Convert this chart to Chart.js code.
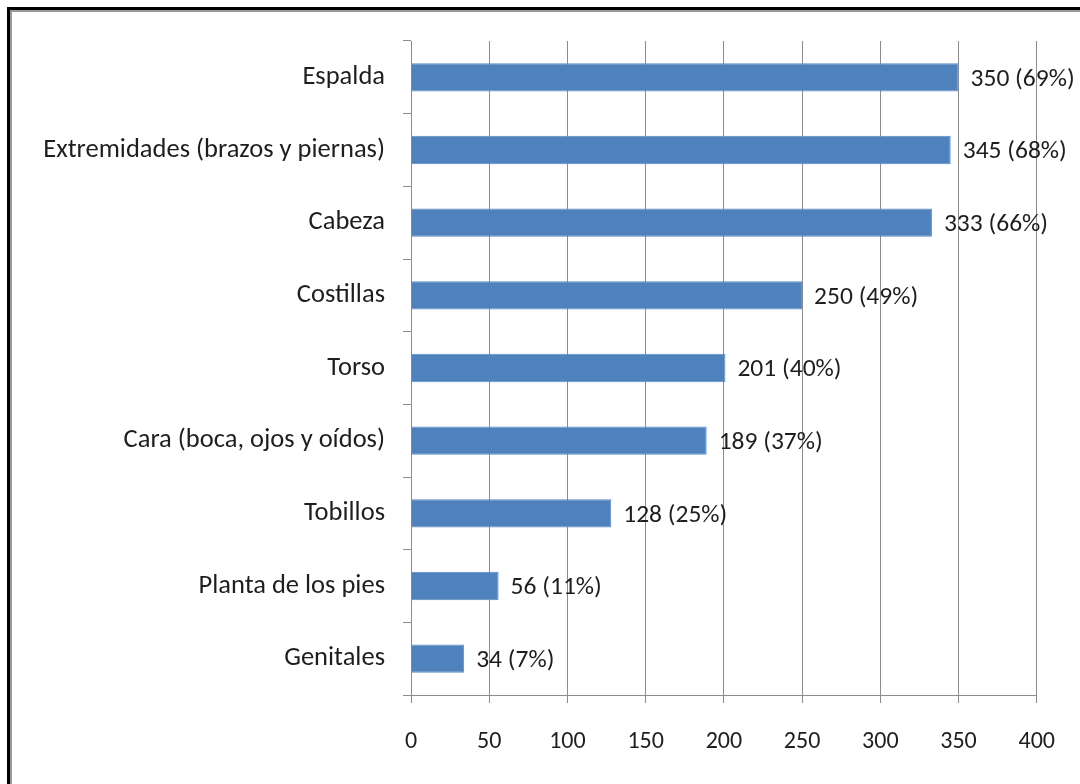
<!DOCTYPE html>
<html lang="es">
<head>
<meta charset="UTF-8" />
<title>Partes del cuerpo</title>
<script src="https://cdn.jsdelivr.net/npm/chart.js@4.4.0/dist/chart.umd.min.js"></script>
<style>
    body { margin: 0; background: #fff; }
    #frame {
        position: absolute; left: 7px; top: 7px; width: 1100px; height: 800px;
        border-top: 3px solid #000; border-left: 3px solid #000;
        box-shadow: inset 2px 2px 0 #9a9a9a;
    }
    #wrap { position: absolute; left: 0; top: 0; width: 1080px; height: 784px; }
</style>
</head>
<body>
<div id="frame"></div>
<div id="wrap"><canvas id="myChart" width="1080" height="784"></canvas></div>
<script>
const categorias = ['Espalda', 'Extremidades (brazos y piernas)', 'Cabeza', 'Costillas', 'Torso',
    'Cara (boca, ojos y oídos)', 'Tobillos', 'Planta de los pies', 'Genitales'];
const valores = [350, 345, 333, 250, 201, 189, 128, 56, 34];
const porcentajes = [69, 68, 66, 49, 40, 37, 25, 11, 7];
const xTicks = [0, 50, 100, 150, 200, 250, 300, 350, 400];

const fuente = "Carlito, Lato, 'Liberation Sans', sans-serif";
const textColor = '#1e1e1e';
const gridColor = '#8c8c8c';

// etiquetas "350 (69%)" al final de cada barra
const etiquetas = {
    id: 'etiquetas',
    afterDatasetsDraw(chart) {
        const ctx = chart.ctx;
        const meta = chart.getDatasetMeta(0);
        ctx.save();
        ctx.font = '25.5px ' + fuente;
        ctx.fillStyle = textColor;
        ctx.textAlign = 'left';
        ctx.textBaseline = 'middle';
        meta.data.forEach((bar, i) => {
            ctx.fillText(valores[i] + ' (' + porcentajes[i] + '%)', bar.x + 12, bar.y + 2);
        });
        ctx.restore();
    }
};

const ctx = document.getElementById('myChart').getContext('2d');
const myChart = new Chart(ctx, {
    type: 'bar',
    data: {
        labels: categorias,
        datasets: [{
            data: valores,
            backgroundColor: '#4f81bd',
            borderColor: '#5a8ac4',
            borderWidth: 1,
            barPercentage: 0.39,
            categoryPercentage: 1
        }]
    },
    options: {
        indexAxis: 'y',
        responsive: false,
        animation: false,
        layout: { padding: { left: 0, top: 41, right: 40, bottom: 0 } },
        plugins: { legend: { display: false }, tooltip: { enabled: false } },
        scales: {
            x: {
                min: 0, max: 400,
                afterBuildTicks: scale => { scale.ticks = xTicks.map(v => ({ value: v })); },
                afterFit: scale => { scale.height = 89; },
                grid: { color: gridColor, lineWidth: 1, drawTicks: true, tickLength: 8, tickColor: gridColor },
                border: { color: gridColor, width: 1 },
                ticks: { color: textColor, font: { family: fuente, size: 24 }, padding: 25, maxRotation: 0 }
            },
            y: {
                afterFit: scale => { scale.width = 411; },
                grid: { drawOnChartArea: false, drawTicks: true, tickLength: 8, color: gridColor, offset: true },
                border: { color: gridColor, width: 1 },
                ticks: { color: textColor, font: { family: fuente, size: 26.5 }, padding: 18 }
            }
        }
    },
    plugins: [etiquetas]
});
</script>
</body>
</html>
